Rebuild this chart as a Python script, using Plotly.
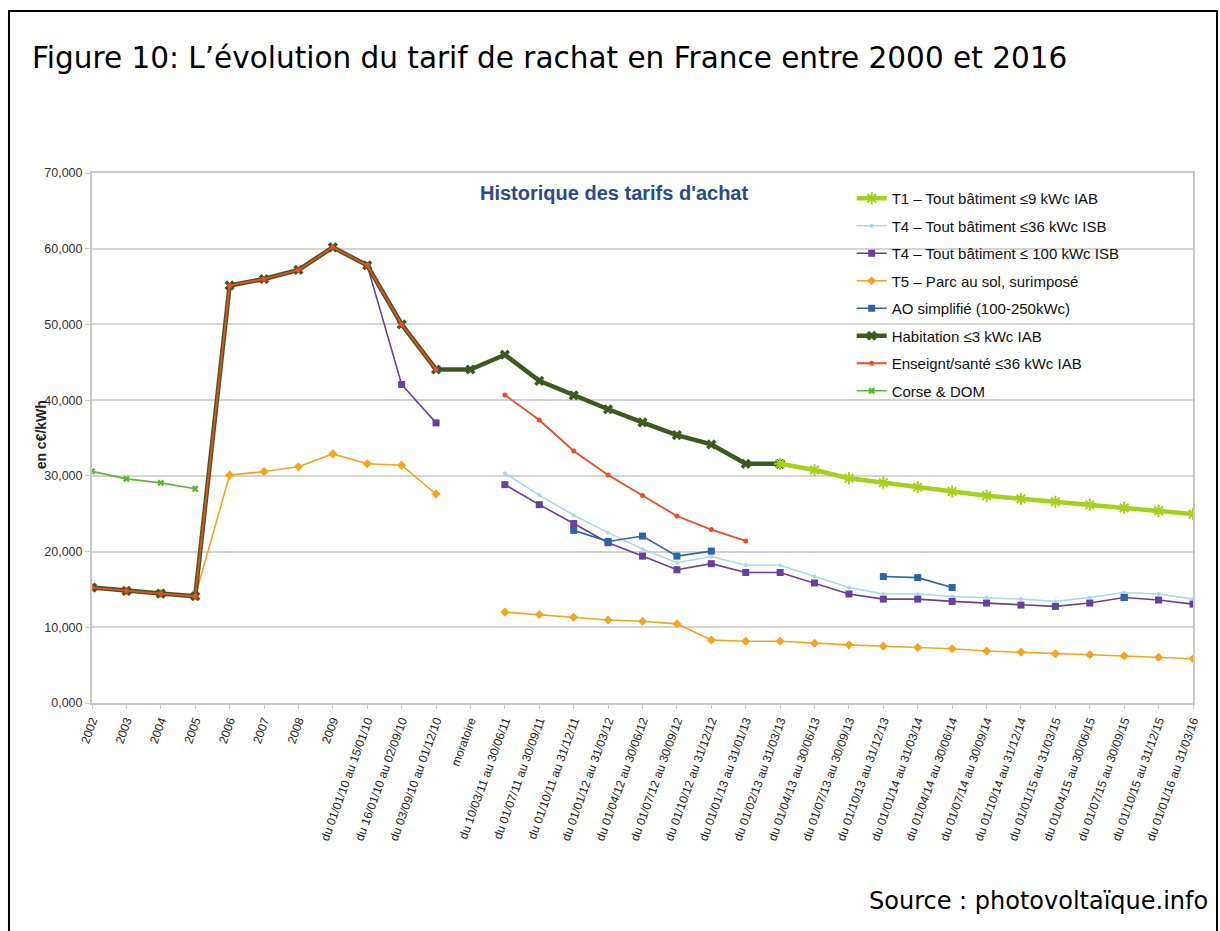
import plotly.graph_objects as go

# Categories (x axis)
periodes = [
    "2002", "2003", "2004", "2005", "2006", "2007", "2008", "2009",
    "du 01/01/10 au 15/01/10", "du 16/01/10 au 02/09/10", "du 03/09/10 au 01/12/10",
    "moratoire",
    "du 10/03/11 au 30/06/11", "du 01/07/11 au 30/09/11", "du 01/10/11 au 31/12/11",
    "du 01/01/12 au 31/03/12", "du 01/04/12 au 30/06/12", "du 01/07/12 au 30/09/12",
    "du 01/10/12 au 31/12/12", "du 01/01/13 au 31/01/13", "du 01/02/13 au 31/03/13",
    "du 01/04/13 au 30/06/13", "du 01/07/13 au 30/09/13", "du 01/10/13 au 31/12/13",
    "du 01/01/14 au 31/03/14", "du 01/04/14 au 30/06/14", "du 01/07/14 au 30/09/14",
    "du 01/10/14 au 31/12/14", "du 01/01/15 au 31/03/15", "du 01/04/15 au 30/06/15",
    "du 01/07/15 au 30/09/15", "du 01/10/15 au 31/12/15", "du 01/01/16 au 31/03/16",
]
N = None

# Series values (c€/kWh)
t1_9kwc = [N] * 20 + [31.59, 30.77, 29.69, 29.10, 28.51, 27.94, 27.38, 26.97,
                      26.57, 26.17, 25.78, 25.39, 24.95]
t4_36kwc = [N] * 12 + [30.35, 27.46, 24.80, 22.50, 20.35, 18.53, 19.34, 18.20, 18.20,
                       16.75, 15.25, 14.40, 14.40, 14.07, 13.94, 13.72, 13.42,
                       13.94, 14.60, 14.40, 13.72]
t4_100kwc = [N] * 8 + [57.80, 42.07, 37.00, N,
                       28.84, 26.20, 23.70, 21.16, 19.40, 17.60, 18.40, 17.24, 17.24,
                       15.85, 14.40, 13.72, 13.72, 13.42, 13.20, 12.93, 12.76,
                       13.20, 13.94, 13.60, 13.06]
t5_sol = [15.25, 14.80, 14.45, 14.10, 30.10, 30.57, 31.20, 32.90, 31.60, 31.40, 27.60, N,
          12.00, 11.68, 11.33, 10.97, 10.80, 10.45, 8.33, 8.16, 8.16,
          7.90, 7.68, 7.50, 7.33, 7.16, 6.86, 6.72, 6.50, 6.37, 6.20, 6.02, 5.85]
ao_simplifie = [N] * 14 + [22.80, 21.34, 22.05, 19.40, 20.06, N, N, N, N,
                           16.70, 16.56, 15.25, N, N, N, N, 13.94, N, N]
habitation_3kwc = [15.25, 14.80, 14.45, 14.10, 55.15, 56.00, 57.20, 60.18, 57.80, 50.00,
                   44.05, 44.05, 46.00, 42.55, 40.63, 38.80, 37.06, 35.39, 34.15,
                   31.59, 31.59] + [N] * 12
enseign_sante = [15.25, 14.80, 14.45, 14.10, 55.15, 56.00, 57.20, 60.18, 57.80, 50.00,
                 44.05, N, 40.68, 37.38, 33.28, 30.10, 27.40, 24.70, 22.90, 21.40] + [N] * 13
corse_dom = [30.60, 29.60, 29.07, 28.30] + [N] * 29

# name, values, colour, width, marker symbol, marker size, legend rank
series = [
    ("T5 – Parc au sol, surimposé", t5_sol, "#f7a31c", 1.6, "diamond", 7, 4),
    ("Corse & DOM", corse_dom, "#5cb832", 1.6, "x", 6, 8),
    ("T4 – Tout bâtiment ≤36 kWc ISB", t4_36kwc, "#a9d8f3", 1.6, "circle", 4, 2),
    ("T4 – Tout bâtiment ≤ 100 kWc ISB", t4_100kwc, "#6a3e9e", 1.6, "square", 7, 3),
    ("AO simplifié (100-250kWc)", ao_simplifie, "#2f62a8", 1.6, "square", 7, 5),
    ("Habitation ≤3 kWc IAB", habitation_3kwc, "#3e5920", 4.5, "x", 9, 6),
    ("T1 – Tout bâtiment ≤9 kWc IAB", t1_9kwc, "#a4d11c", 4.5, "asterisk-open", 10, 1),
    ("Enseignt/santé ≤36 kWc IAB", enseign_sante, "#f04b24", 1.8, "circle", 5, 7),
]

fig = go.Figure()
for name, vals, color, width, symbol, size, rank in series:
    marker = dict(symbol=symbol, size=size, color=color)
    if symbol.endswith("-open"):
        marker["line"] = dict(color=color, width=2)
    fig.add_trace(go.Scatter(
        x=periodes, y=vals, name=name, mode="lines+markers",
        line=dict(color=color, width=width), marker=marker,
        legendrank=rank, legendgroup=name,
    ))

fig.update_layout(
    width=1220, height=931,
    margin=dict(l=92, r=27, t=173, b=228),
    paper_bgcolor="white", plot_bgcolor="white",
    separators=",.",
    font=dict(family="Liberation Sans, Arial", size=12, color="#333333"),
    showlegend=True,
    legend=dict(
        x=0.690, y=0.983, xanchor="left", yanchor="top",
        bgcolor="rgba(0,0,0,0)", font=dict(size=15, color="#111111"),
        tracegroupgap=5, itemwidth=30,
    ),
    xaxis=dict(
        type="category", range=[0, 32], tickmode="linear", tick0=0, dtick=1,
        tickangle=-70, showgrid=False, showline=True, linecolor="#c8c8c8", linewidth=2,
        ticks="outside", ticklen=4, tickcolor="#c8c8c8", mirror=True,
        tickfont=dict(size=12, color="#222222"),
    ),
    yaxis=dict(
        range=[0, 70], dtick=10, tickformat=".3f",
        showgrid=True, gridcolor="#d4d4d4", gridwidth=1.5,
        showline=True, linecolor="#c8c8c8", linewidth=2, mirror=True,
        ticks="outside", ticklen=5, tickcolor="#c8c8c8",
        tickfont=dict(size=12.5, color="#333333"), zeroline=False,
    ),
    annotations=[
        dict(text="Figure 10: L’évolution du tarif de rachat en France entre 2000 et 2016",
             xref="paper", yref="paper", x=-0.0563, y=1.217, xanchor="left", yanchor="middle",
             showarrow=False, font=dict(family="DejaVu Sans", size=29.5, color="black")),
        dict(text="Historique des tarifs d'achat", xref="paper", yref="paper",
             x=0.474, y=0.962, xanchor="center", yanchor="middle", showarrow=False,
             font=dict(family="Liberation Sans, Arial", size=20, color="#2b4a8c", weight="bold")),
        dict(text="<b>en c€/kWh</b>", xref="paper", yref="paper", x=-0.0463, y=0.505,
             xanchor="center", yanchor="middle", textangle=-90, showarrow=False,
             font=dict(size=14, color="#222222")),
        dict(text="Source : photovoltaïque.info", xref="paper", yref="paper",
             x=1.0154, y=-0.3736, xanchor="right", yanchor="middle", showarrow=False,
             font=dict(family="DejaVu Sans", size=24, color="black")),
    ],
    shapes=[
        dict(type="rect", xref="paper", yref="paper", x0=-0.0754, x1=1.0218,
             y0=-0.45, y1=1.3057, line=dict(color="black", width=2)),
    ],
)

fig.write_html("out.html", config={"displayModeBar": False},
               post_script="document.body.style.margin='0';")
